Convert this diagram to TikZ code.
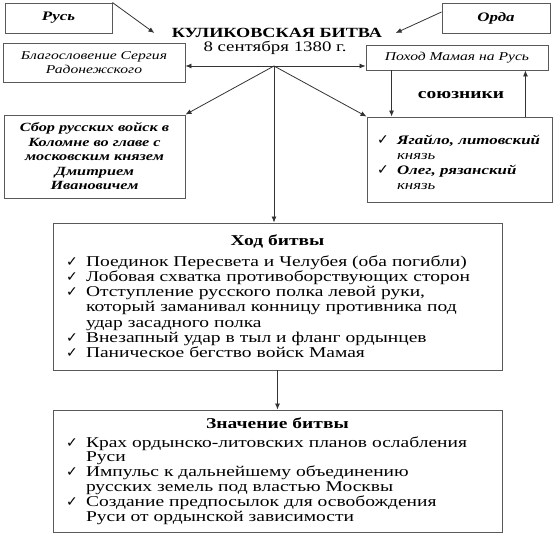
\documentclass[tikz,border=0pt]{standalone}
\usepackage{fontspec}
\setmainfont[FakeStretch=1.3]{Liberation Serif}
\newfontfamily\chkfont{DejaVu Sans}
\usetikzlibrary{arrows.meta}

\tikzset{
    box/.style={draw=black!65, line width=0.9pt, inner sep=0pt, align=center},
    link/.style={-{Latex[length=6pt,width=5pt]}, draw=black!80, line width=0.8pt},
    listbox/.style={box, align=left, inner ysep=0pt},
}
\newcommand{\chkitem}[1]{\par\hangindent=21pt\hangafter=1\noindent\makebox[21pt][l]{\hspace{1pt}{\chkfont\fontsize{14}{14}\selectfont ✓}}#1}

\begin{document}
\begin{tikzpicture}[x=1pt,y=-1pt]
        \useasboundingbox (0,0) rectangle (554,545);
        % top
            \node[box, minimum width=107pt, minimum height=30pt, font=\fontsize{13}{15}\selectfont\bfseries\itshape] (rus) at (58.5,18) {Русь};
            \node[box, minimum width=108pt, minimum height=30pt, font=\fontsize{13}{15}\selectfont\bfseries\itshape] (orda) at (496,18) {Орда};
            \node[font=\fontsize{14}{15}\selectfont\bfseries] (title) at (277,33) {КУЛИКОВСКАЯ БИТВА};
            \node[font=\fontsize{14.5}{15}\selectfont] (date) at (275,48) {8 сентября 1380 г.};
            \coordinate (j) at (274,66);
        % causes
            \node[box, minimum width=182pt, minimum height=39pt, font=\fontsize{12}{13.5}\selectfont\itshape] (blag) at (94,62.5) {Благословение Сергия\\Радонежского};
            \node[box, minimum width=182pt, minimum height=25pt, font=\fontsize{12}{13.5}\selectfont\itshape] (pokhod) at (457,57.5) {Поход Мамая на Русь};
            \node[box, minimum width=181pt, minimum height=83pt, font=\fontsize{12.5}{14.5}\selectfont\bfseries\itshape] (sbor) at (94.5,156.5) {Сбор русских войск в\\Коломне во главе с\\московским князем\\Дмитрием\\Ивановичем};
            \node[listbox, text width=167pt, inner xsep=9pt, minimum height=85pt, font=\fontsize{13}{14.8}\selectfont\itshape] (soyuz) at (459.5,159.5) {%
                \chkitem{\textbf{Ягайло, литовский}\newline князь}
                \chkitem{\textbf{Олег, рязанский}\newline князь}\par\vspace{9pt}};
            \node[font=\fontsize{15}{15}\selectfont\bfseries] (allies) at (461,95) {союзники};
        % battle
            \node[listbox, text width=425pt, inner xsep=12pt, minimum height=147pt, font=\fontsize{15}{15.3}\selectfont] (khod) at (277.5,296.5) {%
                {\centering\bfseries Ход битвы\par}\vspace{5pt}
                \chkitem{Поединок Пересвета и Челубея (оба погибли)}
                \chkitem{Лобовая схватка противоборствующих сторон}
                \chkitem{Отступление русского полка левой руки,\newline который заманивал конницу противника под\newline удар засадного полка}
                \chkitem{Внезапный удар в тыл и фланг ордынцев}
                \chkitem{Паническое бегство войск Мамая}\par};
            \node[listbox, text width=425pt, inner xsep=12pt, minimum height=122pt, font=\fontsize{15}{14.8}\selectfont] (znach) at (277.5,471) {%
                {\centering\bfseries Значение битвы\par}\vspace{4pt}
                \chkitem{Крах ордынско-литовских планов ослабления\newline Руси}
                \chkitem{Импульс к дальнейшему объединению\newline русских земель под властью Москвы}
                \chkitem{Создание предпосылок для освобождения\newline Руси от ордынской зависимости}\par};
        % arrows
            \draw[link] (rus.north east) -- ([xshift=-14pt]title.west);
            \draw[link] ([yshift=6pt]orda.west) -- ([xshift=10pt]title.east);
            \draw[link] (j) -- (j -| blag.east);
            \draw[link] (j) -- (j -| pokhod.west);
            \draw[link] (j) -- (sbor.north east);
            \draw[link] (j) -- (soyuz.north west);
            \draw[link] (j) -- (j |- khod.north);
            \coordinate (dn) at ([xshift=26pt]pokhod.south west);
            \coordinate (up) at ([xshift=-23pt]pokhod.south east);
            \draw[link] (dn) -- (dn |- soyuz.north);
            \draw[link] (up |- soyuz.north) -- (up);
            \draw[link] (khod.south) -- (znach.north);
\end{tikzpicture}
\end{document}
